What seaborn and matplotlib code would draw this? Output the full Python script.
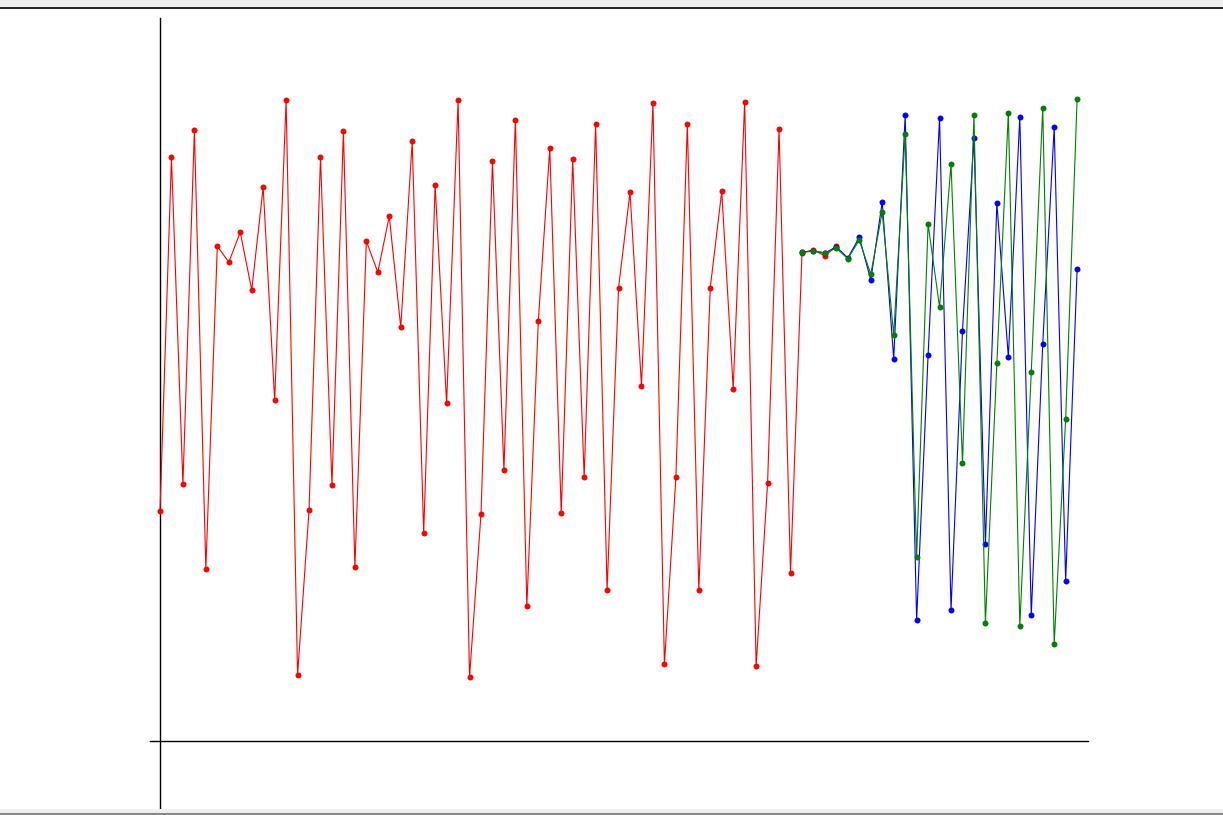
import numpy as np
import pandas as pd
import matplotlib
matplotlib.use("Agg")
import matplotlib.pyplot as plt
import seaborn as sns
from matplotlib.patches import Rectangle
from matplotlib.lines import Line2D

# ---- data (arbitrary units) ----
red_x = list(range(0, 60))
red_values = [229.7, 583.7, 256.9, 610.8, 171.9, 494.9, 478.8, 508.7, 450.9, 553.8,
              340.7, 640.7, 65.9, 230.8, 583.7, 255.7, 609.7, 173.8, 499.8, 468.8,
              524.7, 413.7, 599.7, 207.9, 555.7, 337.6, 640.7, 63.6, 227.0, 579.8,
              270.6, 621.5, 134.8, 419.9, 592.8, 227.8, 581.7, 263.7, 616.9, 150.9,
              453.5, 548.8, 354.8, 637.6, 76.6, 263.7, 616.9, 150.9, 453.5, 549.6,
              352.5, 638.8, 74.7, 258.0, 612.0, 168.1, 488.0, 491.4, 484.9, 495.0]

fc_x = list(range(56, 81))
blue_values = [489, 490, 488, 494.3, 483, 503.7, 461, 539, 382, 626,
               121, 386, 623, 131, 410, 603, 197, 538, 384, 624,
               126, 397, 614, 160, 472]
green_values = [489, 489.7, 488.3, 492.7, 482.3, 501, 466.7, 529, 406, 607,
                184, 517, 434, 577, 278, 626, 118, 378, 628, 115,
                369, 633, 97, 322, 642]

red_df = pd.DataFrame({"x": red_x, "y": red_values})
blue_df = pd.DataFrame({"x": fc_x, "y": blue_values})
green_df = pd.DataFrame({"x": fc_x, "y": green_values})

sns.set_style("white")

W, H = 1223, 815
fig = plt.figure(figsize=(W / 100, H / 100), dpi=100)
fig.patch.set_facecolor("white")

# axes box in pixels: x 150..1088, y 18..808
ax = fig.add_axes([150 / W, 1 - 808 / H, (1088 - 150) / W, (808 - 18) / H])
ax.set_facecolor("white")

common = dict(marker="o", markersize=4.3, markeredgewidth=0, linewidth=0.8,
              sort=False, estimator=None, ax=ax, legend=False, zorder=3)
sns.lineplot(data=red_df, x="x", y="y", color="#ff0000", **common)
sns.lineplot(data=blue_df, x="x", y="y", color="#0000ff", **common)
sns.lineplot(data=green_df, x="x", y="y", color="#008000", **common)

step = 11.464
ax.set_xlim(-10 / step, 928 / step)
ax.set_ylim(-67, 723)

for s in ["top", "right"]:
    ax.spines[s].set_visible(False)
ax.spines["left"].set_position(("data", 0))
ax.spines["bottom"].set_position(("data", 0))
for s in ["left", "bottom"]:
    ax.spines[s].set_color("black")
    ax.spines[s].set_linewidth(1.0)
    ax.spines[s].set_zorder(1)
ax.set_xticks([])
ax.set_yticks([])
ax.set_xlabel("")
ax.set_ylabel("")

# window chrome seen in the screenshot
fig.patches.append(Rectangle((0, 1 - 7 / H), 1, 7 / H, transform=fig.transFigure,
                             facecolor="#efefef", edgecolor="none", zorder=0))
fig.lines.append(Line2D([0, 1], [1 - 8 / H, 1 - 8 / H], transform=fig.transFigure,
                        color="black", linewidth=1.2))
fig.patches.append(Rectangle((0, 0), 1, 6 / H, transform=fig.transFigure,
                             facecolor="#efefef", edgecolor="none", zorder=0))
fig.lines.append(Line2D([0, 1], [1 / H, 1 / H], transform=fig.transFigure,
                        color="#888888", linewidth=1.5))

fig.savefig("out.png", dpi=100)
